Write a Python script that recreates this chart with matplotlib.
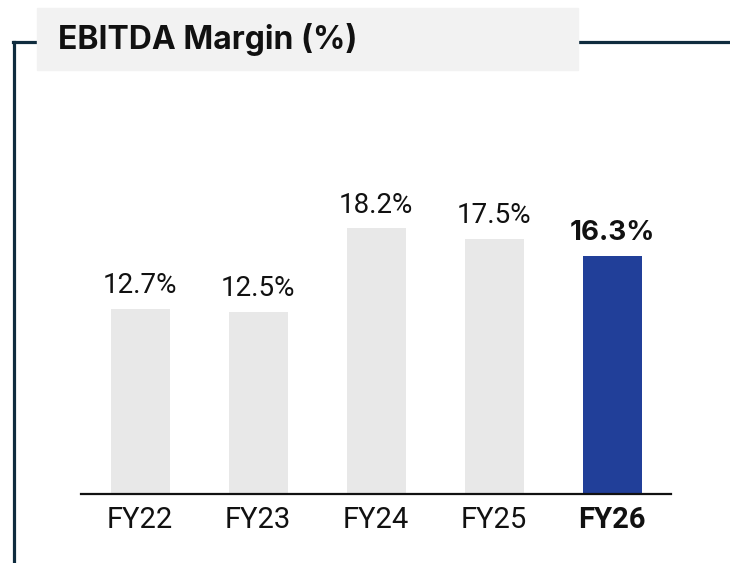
import matplotlib
matplotlib.use("Agg")
import matplotlib.pyplot as plt
from matplotlib.patches import Rectangle
from matplotlib.lines import Line2D

# data
years = ["FY22", "FY23", "FY24", "FY25", "FY26"]
margin = [12.7, 12.5, 18.2, 17.5, 16.3]
bar_colors = ["#e8e8e8", "#e8e8e8", "#e8e8e8", "#e8e8e8", "#213f99"]
highlight = "FY26"

frame_col = "#0f2c3e"

fig = plt.figure(figsize=(7.3, 5.63), dpi=100)
W, H = 730, 563

# frame lines and title box (figure pixel coords -> fractions)
def fx(x):
    return x / W

def fy(y):
    return 1 - y / H

fig.add_artist(Line2D([fx(14), fx(14)], [fy(42), fy(563)], color=frame_col, lw=2.3,
                      transform=fig.transFigure))
fig.add_artist(Line2D([fx(13), fx(38)], [fy(42), fy(42)], color=frame_col, lw=2.3,
                      transform=fig.transFigure))
fig.add_artist(Line2D([fx(578), fx(730)], [fy(42), fy(42)], color=frame_col, lw=2.3,
                      transform=fig.transFigure))
fig.add_artist(Rectangle((fx(37), fy(70)), fx(541), (70 - 8) / H, color="#f2f2f2",
                         transform=fig.transFigure, zorder=2))
fig.text(fx(58), fy(40), "EBITDA Margin (%)", fontsize=23, fontweight="bold",
         family=["Inter", "DejaVu Sans"], va="center", ha="left", color="#111111", zorder=3)

ax = fig.add_axes([fx(81), fy(494), fx(590), (494 - 143.6) / H])
x = list(range(len(years)))
ax.bar(x, margin, width=0.5, color=bar_colors, zorder=2)
ax.set_xlim(-0.5, 4.5)
ax.set_ylim(0, 24)

for i, (v, y) in enumerate(zip(margin, years)):
    bold = y == highlight
    ax.annotate(f"{v}%", (i, v), xytext=(0, 7), textcoords="offset points",
                ha="center", va="bottom", fontsize=20,
                family=["Inter", "DejaVu Sans"] if bold else ["Roboto", "DejaVu Sans"],
                fontweight="bold" if bold else "normal", color="#111111")

ax.set_xticks(x)
ax.set_xticklabels(years, fontsize=21, family=["Roboto", "DejaVu Sans"], color="#111111")
for lab in ax.get_xticklabels():
    if lab.get_text() == highlight:
        lab.set_fontweight("bold")
ax.tick_params(axis="x", length=0, pad=9)
ax.set_yticks([])
for s in ["top", "right", "left"]:
    ax.spines[s].set_visible(False)
ax.spines["bottom"].set_linewidth(1.6)
ax.spines["bottom"].set_color("#111111")

fig.savefig("out.png", dpi=100)
